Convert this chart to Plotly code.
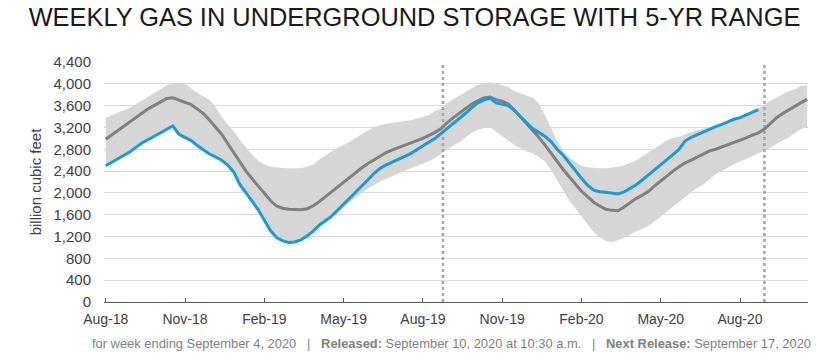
import pandas as pd
import plotly.graph_objects as go

# Weekly dates (Fridays) starting week ending 2018-08-17
week_dates = pd.date_range("2018-08-17", periods=116, freq="7D")

# Working gas in storage, lower 48 (Bcf) through week ending Sep 4, 2020
storage = [
    2498, 2560, 2625, 2700, 2755, 2840, 2920, 2980, 3045, 3095,
    3160, 3229, 3075, 3020, 2960, 2870, 2790, 2712, 2660, 2600,
    2510, 2380, 2150, 2010, 1850, 1690, 1500, 1310, 1180, 1120,
    1090, 1100, 1140, 1210, 1300, 1410, 1490, 1570, 1680, 1790,
    1900, 2010, 2130, 2240, 2360, 2450, 2515, 2565, 2615, 2660,
    2720, 2790, 2860, 2920, 3000, 3090, 3180, 3270, 3360, 3460,
    3560, 3650, 3700, 3740, 3650, 3630, 3600, 3510, 3400, 3300,
    3180, 3110, 3040, 2940, 2800, 2690, 2540, 2410, 2270, 2140,
    2050, 2020, 2010, 1995, 1980, 2020, 2080, 2150, 2240, 2330,
    2420, 2510, 2610, 2700, 2800, 2950, 3020, 3070, 3130, 3180,
    3215, 3255, 3300, 3350, 3380, 3430, 3480, 3525,
]

# 5-year average
avg_5yr = [
    2985, 3065, 3140, 3230, 3300, 3385, 3465, 3545, 3605, 3670,
    3730, 3745, 3700, 3665, 3620, 3540, 3455, 3335, 3215, 3075,
    2905, 2730, 2560, 2400, 2260, 2120, 1990, 1860, 1760, 1720,
    1700, 1690, 1690, 1710, 1760, 1840, 1930, 2020, 2110, 2200,
    2290, 2380, 2460, 2540, 2610, 2680, 2740, 2790, 2835, 2880,
    2915, 2960, 3000, 3050, 3110, 3180, 3290, 3380, 3460, 3550,
    3630, 3690, 3740, 3758, 3710, 3680, 3630, 3520, 3400, 3280,
    3160, 3020, 2880, 2740, 2580, 2430, 2290, 2150, 2030, 1930,
    1830, 1760, 1700, 1680, 1672, 1740, 1820, 1900, 1960, 2030,
    2130, 2220, 2320, 2400, 2480, 2550, 2600, 2660, 2720, 2770,
    2800, 2840, 2885, 2925, 2965, 3010, 3060, 3100, 3170, 3280,
    3380, 3455, 3520, 3575, 3650, 3720,
]

# 5-year range: maximum
range_max = [
    3375, 3430, 3475, 3510, 3560, 3630, 3695, 3770, 3840, 3900,
    3975, 4015, 4020, 4000, 3920, 3830, 3770, 3710, 3580, 3400,
    3250, 3130, 2970, 2830, 2700, 2590, 2520, 2485, 2465, 2455,
    2450, 2448, 2450, 2480, 2520, 2610, 2690, 2760, 2830, 2880,
    2935, 3010, 3075, 3150, 3210, 3245, 3270, 3285, 3300, 3315,
    3330, 3360, 3400, 3430, 3500, 3540, 3650, 3720, 3790, 3850,
    3920, 3980, 4010, 4030, 4010, 3980, 3940, 3870, 3820, 3780,
    3750, 3640, 3430, 3200, 2960, 2770, 2650, 2570, 2500, 2470,
    2455, 2450, 2450, 2460, 2480, 2505, 2550, 2600, 2670, 2740,
    2820, 2890, 2960, 3010, 3030, 3070, 3110, 3150, 3175, 3195,
    3225, 3260, 3310, 3350, 3395, 3440, 3500, 3550, 3610, 3690,
    3750, 3800, 3870, 3900, 3960, 3970,
]

# 5-year range: minimum
range_min = [
    2510, 2570, 2635, 2710, 2765, 2850, 2930, 2990, 3055, 3105,
    3170, 3210, 3080, 3030, 2970, 2880, 2800, 2720, 2670, 2610,
    2520, 2390, 2160, 2020, 1860, 1700, 1510, 1320, 1190, 1130,
    1100, 1110, 1140, 1180, 1270, 1360, 1450, 1540, 1640, 1740,
    1830, 1920, 2000, 2080, 2150, 2210, 2260, 2310, 2360, 2410,
    2450, 2490, 2530, 2580, 2640, 2710, 2790, 2870, 2930, 3020,
    3100, 3160, 3190, 3205, 3120, 3050, 2960, 2880, 2820, 2760,
    2730, 2650, 2580, 2420, 2230, 2040, 1860, 1720, 1570, 1430,
    1280, 1180, 1120, 1095, 1130, 1180, 1240, 1295, 1340, 1400,
    1480, 1570, 1660, 1750, 1830, 1930, 2010, 2090, 2160, 2250,
    2340, 2400, 2460, 2510, 2580, 2620, 2670, 2720, 2770, 2830,
    2900, 2960, 3020, 3100, 3170, 3210,
]

# Current-week markers (this year and one year ago)
marker_dates = ["2019-09-08", "2020-09-11"]

y_ticks = [0, 400, 800, 1200, 1600, 2000, 2400, 2800, 3200, 3600, 4000, 4400]
x_tick_labels = ["Aug-18", "Nov-18", "Feb-19", "May-19", "Aug-19",
                 "Nov-19", "Feb-20", "May-20", "Aug-20"]
x_tick_vals = list(week_dates[::13][:len(x_tick_labels)])

title_text = "WEEKLY GAS IN UNDERGROUND STORAGE WITH 5-YR RANGE"
footer_text = ("for week ending September 4, 2020 &nbsp;&nbsp;|&nbsp;&nbsp; "
               "<b>Released:</b> September 10, 2020 at 10:30 a.m. &nbsp;&nbsp;|&nbsp;&nbsp; "
               "<b>Next Release:</b> September 17, 2020")

FONT = "Liberation Sans, Arial, sans-serif"

fig = go.Figure()

fig.add_trace(go.Scatter(x=week_dates, y=range_min, mode="lines",
                         line=dict(width=0, color="#d6d6d6"), hoverinfo="skip"))
fig.add_trace(go.Scatter(x=week_dates, y=range_max, mode="lines", fill="tonexty",
                         fillcolor="#d6d6d6", line=dict(width=0, color="#d6d6d6"),
                         hoverinfo="skip"))

for d in marker_dates:
    fig.add_trace(go.Scatter(x=[d, d], y=[y_ticks[0], y_ticks[-1]], mode="lines",
                             line=dict(color="#a3a3a3", width=2.5, dash="dot"),
                             hoverinfo="skip"))

fig.add_trace(go.Scatter(x=week_dates, y=avg_5yr, mode="lines",
                         line=dict(color="#7f7f7f", width=3)))
fig.add_trace(go.Scatter(x=week_dates[:len(storage)], y=storage, mode="lines",
                         line=dict(color="#1a9ad8", width=3)))

fig.update_layout(
    width=820, height=362,
    margin=dict(l=104, r=12, t=62, b=60),
    paper_bgcolor="white", plot_bgcolor="white",
    showlegend=False,
    font=dict(family=FONT, color="#404040"),
    title=dict(text=title_text, x=0.5055, xanchor="center", y=0.952, yanchor="middle",
               font=dict(family=FONT, size=25.4, color="#1a1a1a")),
)

fig.update_xaxes(
    type="date", range=["2018-08-15", "2020-10-31"],
    tickvals=x_tick_vals, ticktext=x_tick_labels,
    showgrid=False, showline=True, linecolor="#595959", linewidth=1,
    ticks="inside", ticklen=4, tickcolor="#595959",
    tickfont=dict(family=FONT, size=14, color="#404040"),
    ticklabelstandoff=4,
    zeroline=False,
)
fig.update_yaxes(
    range=[0, 4400], tickvals=y_ticks, tickformat=",",
    showgrid=True, gridcolor="#d9d9d9", gridwidth=1,
    zeroline=False, showline=False, ticks="",
    tickfont=dict(family=FONT, size=15, color="#404040"),
    ticklabelstandoff=12,
    title=dict(text="billion cubic feet", font=dict(family=FONT, size=15, color="#404040"),
               standoff=8),
)

fig.add_annotation(text=footer_text, xref="paper", yref="paper",
                   x=0.4936, y=-0.171, xanchor="center", yanchor="middle",
                   showarrow=False, font=dict(family=FONT, size=12.9, color="#808080"))

fig.write_html("out.html", config={"displayModeBar": False},
               post_script="document.body.style.margin='0px';")
